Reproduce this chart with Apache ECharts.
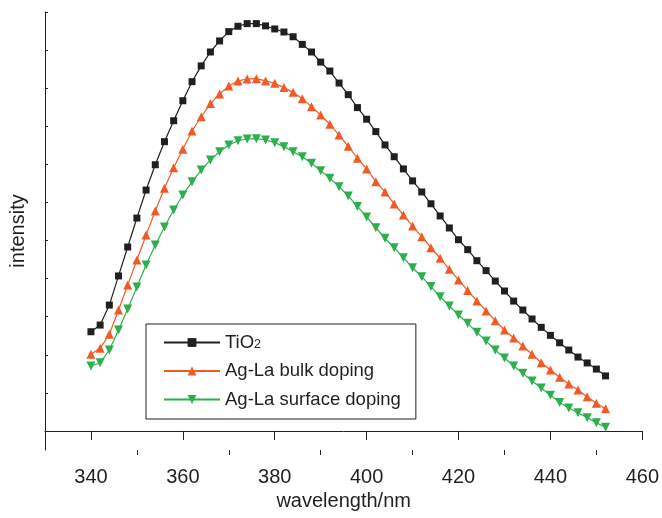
<!DOCTYPE html>
<html><head><meta charset="utf-8">
<script src="https://cdn.jsdelivr.net/npm/echarts@6/dist/echarts.min.js"></script>
<style>html,body{margin:0;padding:0;background:#fff}#c{width:662px;height:518px}</style>
</head><body><div id="c"></div>
<script>
const wavelength = [340,342,344,346,348,350,352,354,356,358,360,362,364,366,368,370,372,374,376,378,380,382,384,386,388,390,392,394,396,398,400,402,404,406,408,410,412,414,416,418,420,422,424,426,428,430,432,434,436,438,440,442,444,446,448,450,452];
const tio2 = [5.21,5.56,6.61,8.14,9.66,11.18,12.65,13.98,15.19,16.29,17.34,18.34,19.17,19.90,20.48,20.97,21.25,21.39,21.39,21.27,21.11,20.95,20.70,20.30,19.90,19.37,18.90,18.27,17.66,16.98,16.37,15.72,15.02,14.40,13.76,13.13,12.55,11.93,11.29,10.66,10.04,9.52,8.94,8.42,7.87,7.35,6.82,6.35,5.88,5.44,5.02,4.63,4.25,3.88,3.57,3.25,2.89];
const bulkDoping = [4.03,4.34,5.08,6.35,7.66,8.98,10.29,11.55,12.74,13.82,14.79,15.75,16.50,17.19,17.69,18.11,18.38,18.48,18.50,18.38,18.26,18.03,17.78,17.45,17.03,16.59,16.10,15.54,14.95,14.32,13.76,13.09,12.55,11.92,11.34,10.76,10.20,9.62,9.07,8.49,7.93,7.37,6.82,6.30,5.79,5.30,4.88,4.46,4.03,3.58,3.20,2.82,2.47,2.15,1.80,1.45,1.17];
const surfaceDoping = [3.41,3.58,4.25,5.30,6.40,7.56,8.71,9.77,10.71,11.60,12.39,13.09,13.70,14.23,14.66,15.02,15.24,15.33,15.35,15.28,15.14,14.93,14.66,14.40,14.06,13.67,13.27,12.83,12.34,11.79,11.24,10.67,10.12,9.62,9.10,8.57,8.10,7.58,7.05,6.56,6.09,5.65,5.18,4.72,4.25,3.83,3.41,3.03,2.62,2.26,1.87,1.50,1.21,0.96,0.70,0.43,0.19];
const seriesNames = ['TiO2','Ag-La bulk doping','Ag-La surface doping'];
const xTickValues = [340,360,380,400,420,440,460];
const xMinorTickValues = [350,370,390,410,430,450];
const yTickValues = [0,2,4,6,8,10,12,14,16,18,20,22];

const INK = '#231f20';
const FONT = 'Liberation Sans, Arial, Helvetica, sans-serif';
const colors = [INK, '#f15a24', '#2bb04b'];
const symbols = ['rect', 'triangle', 'triangle'];
const rotates = [0, 0, 180];
const sizes = [7, 9, 9];
const values = [tio2, bulkDoping, surfaceDoping];

const chart = echarts.init(document.getElementById('c'), null, {renderer: 'canvas'});
chart.setOption({
  animation: false,
  backgroundColor: '#fff',
  grid: {left: 45, right: 18, top: 12, bottom: 68},
  legend: {
    orient: 'vertical', left: 146, top: 324,
    padding: [9, 15, 10, 17], itemGap: 9.5,
    itemWidth: 56, itemHeight: 11,
    borderColor: INK, borderWidth: 1,
    data: seriesNames,
    formatter: n => n === 'TiO2' ? 'TiO{sub|2}' : n,
    textStyle: {
      fontSize: 18.5, color: INK, fontFamily: FONT, lineHeight: 18,
      rich: {sub: {fontSize: 12.5, color: INK, fontFamily: FONT, verticalAlign: 'bottom', lineHeight: 9}}
    }
  },
  xAxis: [{
    type: 'value', min: 330, max: 460, position: 'bottom',
    axisLine: {show: true, lineStyle: {color: INK, width: 1}},
    axisTick: {show: true, inside: false, length: 9, customValues: xTickValues, lineStyle: {color: INK, width: 1}},
    axisLabel: {customValues: xTickValues, color: INK, fontSize: 20, fontFamily: FONT, margin: 17},
    splitLine: {show: false},
    name: 'wavelength/nm', nameLocation: 'middle', nameGap: 41,
    nameTextStyle: {fontSize: 20, color: INK, fontFamily: FONT}
  }, {
    type: 'value', min: 330, max: 460, position: 'bottom',
    axisLine: {show: false},
    axisTick: {show: true, inside: false, length: 5, customValues: xMinorTickValues, lineStyle: {color: INK, width: 1}},
    axisLabel: {show: false},
    splitLine: {show: false}
  }],
  yAxis: {
    type: 'value', min: -1, max: 22,
    axisLine: {show: true, lineStyle: {color: INK, width: 1}},
    axisTick: {show: true, inside: true, length: 3, customValues: yTickValues, lineStyle: {color: INK, width: 1}},
    axisLabel: {show: false},
    splitLine: {show: false},
    name: 'intensity', nameLocation: 'middle', nameGap: 17,
    nameTextStyle: {fontSize: 20, color: INK, fontFamily: FONT}
  },
  series: seriesNames.map((name, k) => ({
    name: name, type: 'line', xAxisIndex: 0,
    data: wavelength.map((w, i) => [w, values[k][i]]),
    showSymbol: true, symbol: symbols[k], symbolSize: sizes[k], symbolRotate: rotates[k],
    lineStyle: {color: colors[k], width: 1.2},
    itemStyle: {color: colors[k]},
    emphasis: {disabled: true}
  }))
});
</script></body></html>
